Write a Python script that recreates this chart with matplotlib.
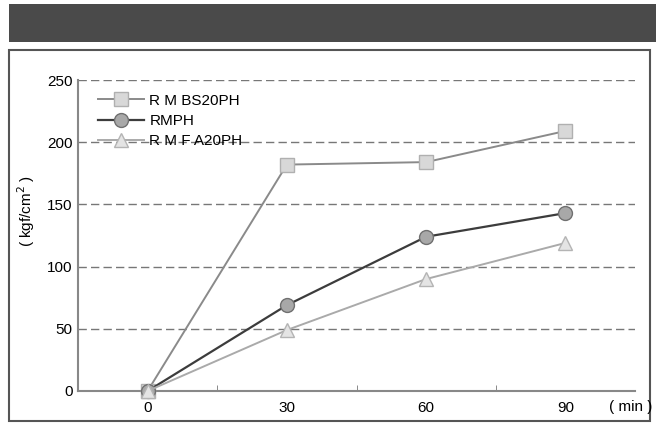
import matplotlib
matplotlib.use("Agg")
import matplotlib.pyplot as plt
from matplotlib.patches import Rectangle

plt.rcParams["font.family"] = ["Liberation Sans", "DejaVu Sans"]

# ---------------------------------------------------------------------------
# Data
# ---------------------------------------------------------------------------
minutes = [0, 30, 60, 90]
rmbs20ph = [0, 182, 184, 209]
rmph = [0, 69, 124, 143]
rmfa20ph = [0, 49, 90, 119]
series_labels = ["R M BS20PH", "RMPH", "R M F A20PH"]
y_ticks = [0, 50, 100, 150, 200, 250]

# ---------------------------------------------------------------------------
# Figure
# ---------------------------------------------------------------------------
W, H = 656, 424
fig = plt.figure(figsize=(W / 100, H / 100), dpi=100)

# dark header band and framed panel (kept behind the axes)
fig.patches.append(Rectangle((9 / W, 1 - 42 / H), (W - 9) / W, 38 / H,
                             transform=fig.transFigure, facecolor="#4a4a4a",
                             edgecolor="none", zorder=-5))
fig.patches.append(Rectangle((9 / W, 1 - 421 / H), 641 / W, 371 / H,
                             transform=fig.transFigure, facecolor="none",
                             edgecolor="#555555", linewidth=1.5, zorder=-5))

ax = fig.add_axes([78 / W, 1 - 391 / H, (635 - 78) / W, (391 - 80) / H])
ax.set_facecolor("none")

ax.plot(minutes, rmbs20ph, color="#8a8a8a", lw=1.4, marker="s", ms=9.5,
        mfc="#d8d8d8", mec="#b0b0b0", mew=1.0, label=series_labels[0],
        zorder=3, clip_on=False)
ax.plot(minutes, rmph, color="#3c3c3c", lw=1.6, marker="o", ms=10,
        mfc="#a8a8a8", mec="#707070", mew=1.0, label=series_labels[1],
        zorder=3, clip_on=False)
ax.plot(minutes, rmfa20ph, color="#aaaaaa", lw=1.4, marker="^", ms=10,
        mfc="#e4e4e4", mec="#b4b4b4", mew=1.0, label=series_labels[2],
        zorder=3, clip_on=False)

ax.set_xlim(-15, 105)
ax.set_ylim(0, 250)
ax.set_yticks(y_ticks)
ax.set_xticks(minutes)
ax.set_xticks([15, 45, 75], minor=True)
ax.tick_params(axis="x", which="major", length=0, pad=7, labelsize=11)
ax.tick_params(axis="x", which="minor", direction="in", length=4,
               color="#777777")
ax.tick_params(axis="y", length=0, pad=4, labelsize=11)

for y in y_ticks[1:]:
    ax.axhline(y, color="#777777", lw=1.0, ls=(0, (6, 3)), zorder=1)

for side in ["top", "right"]:
    ax.spines[side].set_visible(False)
for side in ["left", "bottom"]:
    ax.spines[side].set_color("#888888")
    ax.spines[side].set_linewidth(1.5)

ax.set_ylabel("( kgf/cm$^{2}$ )", fontsize=11)
ax.yaxis.set_label_coords(-0.074, 0.58)
ax.text(0.953, -0.05, "( min )", transform=ax.transAxes, fontsize=11,
        va="center", ha="left")

leg = ax.legend(loc="upper left", bbox_to_anchor=(0.02, 0.985), frameon=False,
                fontsize=11, handlelength=3.0, handletextpad=0.35,
                labelspacing=0.4, borderaxespad=0.2)

fig.savefig("out.png", dpi=100)
